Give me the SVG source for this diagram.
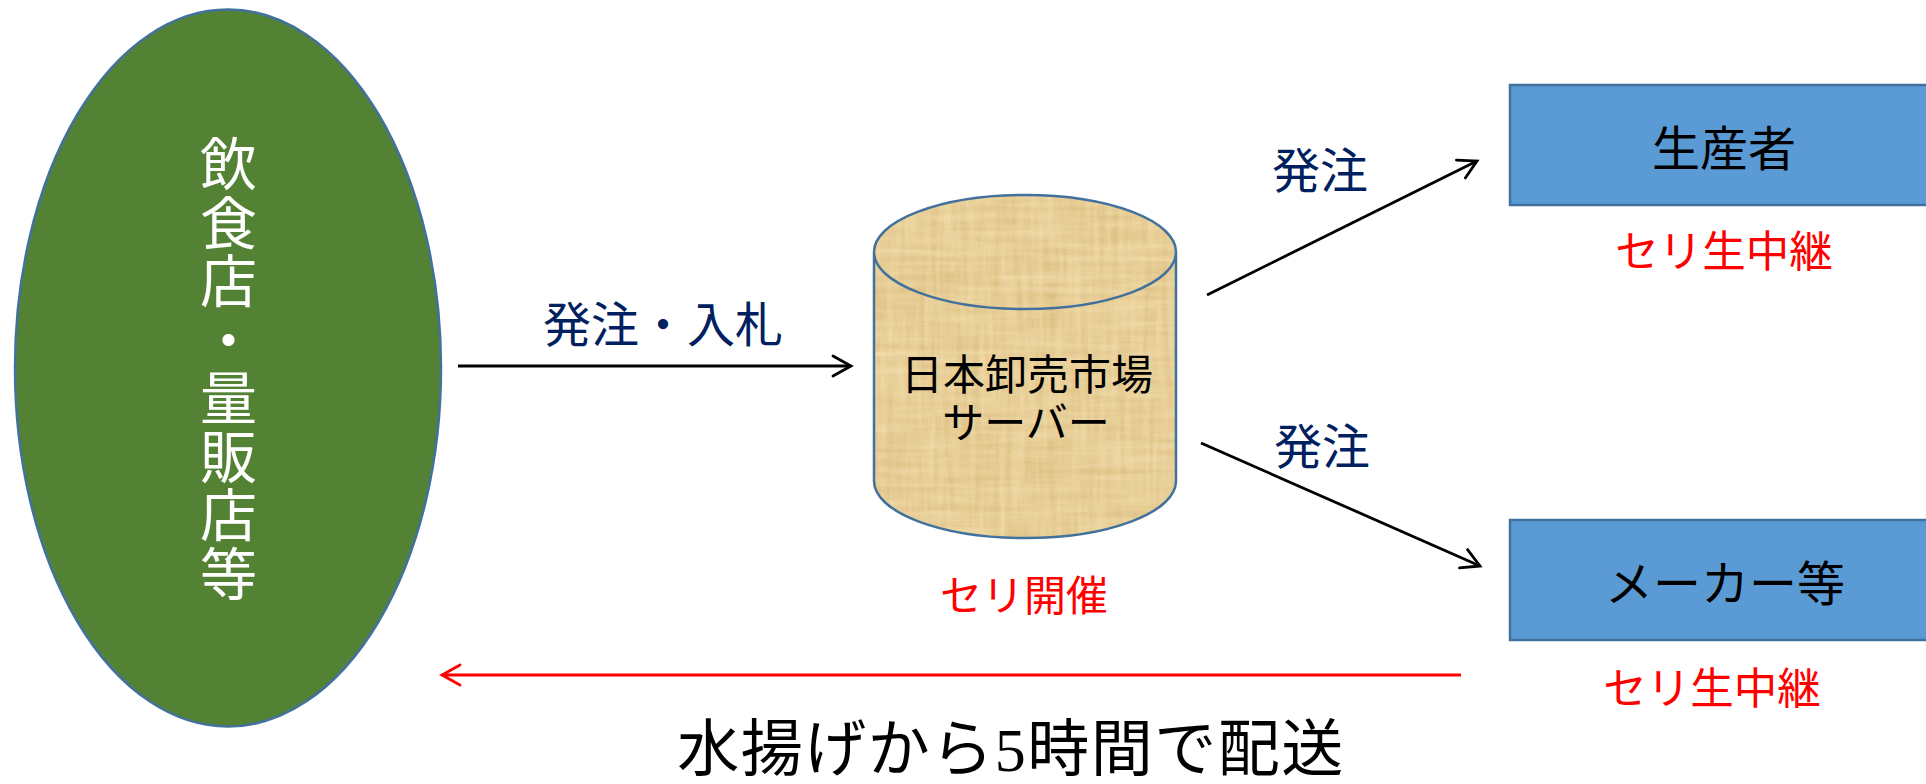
<svg xmlns="http://www.w3.org/2000/svg" width="1926" height="784" viewBox="0 0 1926 784">
<style>
text{font-family:"Liberation Serif","Noto Sans CJK JP",serif;text-anchor:middle}
.navy{fill:#002060;font-size:48px}
.red{fill:#ff0000;font-size:43.5px}
.blk{fill:#000;font-size:48px}
.shape{stroke:#41719c;stroke-width:2.5}
.conn{fill:none;stroke:#000;stroke-width:2.8}
.head{fill:none;stroke:#000;stroke-width:2.8;stroke-linecap:round;stroke-linejoin:miter}
</style>
<defs>
<filter id="weave" x="0" y="0" width="100%" height="100%" color-interpolation-filters="sRGB">
<feTurbulence type="fractalNoise" baseFrequency="0.16 0.012" numOctaves="3" seed="7" result="n1"/>
<feTurbulence type="fractalNoise" baseFrequency="0.012 0.16" numOctaves="3" seed="3" result="n2"/>
<feBlend in="n1" in2="n2" mode="multiply" result="n"/>
<feColorMatrix in="n" type="matrix" values="0 0 0 0 0.80  0 0 0 0 0.66  0 0 0 0 0.38  0.9 0 0 0 -0.12" result="t"/>
<feComposite in="t" in2="SourceAlpha" operator="in" result="c"/>
<feMerge><feMergeNode in="SourceGraphic"/><feMergeNode in="c"/></feMerge>
</filter>
<marker id="a" markerUnits="userSpaceOnUse" markerWidth="24" markerHeight="26" refX="21" refY="13" orient="auto"><path d="M3 3L21 13L3 23" class="head"/></marker>
<marker id="r" markerUnits="userSpaceOnUse" markerWidth="24" markerHeight="26" refX="21" refY="13" orient="auto"><path d="M3 3L21 13L3 23" class="head" style="stroke:#ff0000"/></marker>
</defs>
<rect width="1926" height="784" fill="#fff"/>
<g id="connectors">
<line class="conn" x1="458" y1="366" x2="851" y2="366" marker-end="url(#a)"/>
<line class="conn" x1="1207" y1="295" x2="1477" y2="161" marker-end="url(#a)"/>
<line class="conn" x1="1201" y1="443" x2="1480" y2="566" marker-end="url(#a)"/>
<line class="conn" style="stroke:#ff0000" x1="1461" y1="675" x2="442" y2="675" marker-end="url(#r)"/>
</g>
<g id="restaurants">
<ellipse class="shape" cx="228" cy="368" rx="213" ry="358.500" fill="#548235"/>
<text style="fill:#fff;font-size:57px;writing-mode:vertical-rl;letter-spacing:1.500px" x="223" y="369">飲食店・量販店等</text>
</g>
<g id="server">
<path d="M874 252V481A151 57 0 0 0 1176 481V252A151 57 0 0 0 874 252Z" fill="#f2dcab" filter="url(#weave)"/>
<path class="shape" fill="none" d="M874 252V481A151 57 0 0 0 1176 481V252A151 57 0 0 0 874 252ZA151 57 0 0 0 1176 252"/>
<text class="blk" style="font-size:42px" x="1027" y="390">日本卸売市場</text>
<text class="blk" style="font-size:42px" x="1026" y="438">サーバー</text>
</g>
<g id="producer">
<rect class="shape" x="1510" y="85" width="420" height="120" fill="#5b9bd5"/>
<text class="blk" x="1724" y="166">生産者</text>
</g>
<g id="maker">
<rect class="shape" x="1510" y="520" width="420" height="120" fill="#5b9bd5"/>
<text class="blk" x="1725" y="601">メーカー等</text>
</g>
<g id="labels">
<text class="navy" x="663" y="342">発注・入札</text>
<text class="navy" x="1320" y="188">発注</text>
<text class="navy" x="1322" y="464">発注</text>
<text class="red" x="1724" y="267">セリ生中継</text>
<text class="red" x="1712" y="704">セリ生中継</text>
<text class="red" style="font-size:42px" x="1024" y="611">セリ開催</text>
<text style="fill:#000;font-size:62px;letter-spacing:1.500px" x="1011" y="771">水揚げから5時間で配送</text>
</g>
</svg>
